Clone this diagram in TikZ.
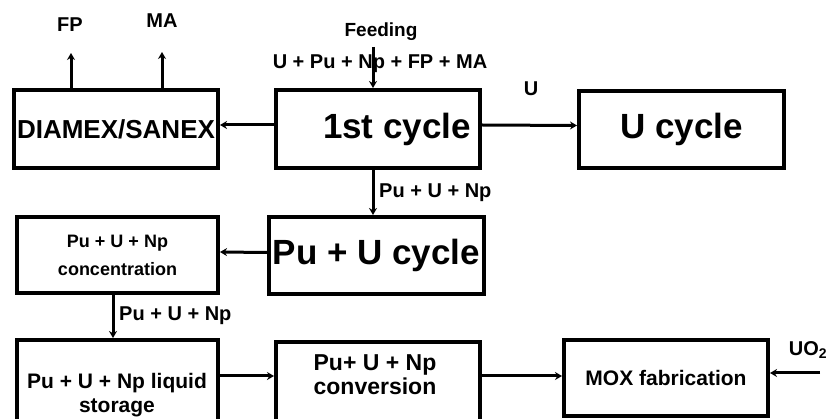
\documentclass[tikz,border=0pt]{standalone}
\usepackage{fontspec}
\setmainfont{Liberation Sans}
\usetikzlibrary{arrows.meta, positioning}
\newcommand{\fsz}[2]{\fontsize{#1}{#2}\selectfont}
\tikzset{
  box/.style={draw, line width=4pt, inner sep=0pt, align=center},
  flow/.style={->, line width=3pt},
  lbl/.style={inner sep=0pt, font=\bfseries\fsz{20}{24}},
}

\begin{document}
\begin{tikzpicture}[x=1pt, y=-1pt, >={Stealth[length=7pt,width=8pt]}]
  \useasboundingbox (0,0) rectangle (833,419);
  \clip (0,0) rectangle (833,419);
  % first row
  \node[box, minimum width=204, minimum height=78, font=\bfseries\fsz{26}{30}] (dx) at (116,129) {DIAMEX/SANEX};
  \node[box, minimum width=204, minimum height=78, font=\bfseries\fsz{35}{40}] (c1) at (378,129) {\hspace*{38pt}1st cycle};
  \node[box, minimum width=205, minimum height=77, font=\bfseries\fsz{35}{40}] (uc) at (681.5,129.5) {U cycle};
  % second row
  \node[box, minimum width=201, minimum height=76, font=\bfseries\fsz{18}{28}] (conc) at (117.5,255) {Pu + U + Np\\concentration};
  \node[box, minimum width=215, minimum height=77, font=\bfseries\fsz{35}{40}] (puc) at (376.5,255.5) {Pu + U cycle};
  % third row (cut off at the bottom)
  \node[box, minimum width=201, minimum height=120] (st) at (117.5,400) {};
  \node[align=center, inner sep=0pt, font=\bfseries\fsz{21}{24}] (stt) at (117,395) {Pu + U + Np liquid\\storage};
  \node[box, minimum width=204, minimum height=120] (cv) at (378,402) {};
  \node[align=center, inner sep=0pt, font=\bfseries\fsz{23}{24}] (cvt) at (375,375) {Pu+ U + Np\\conversion};
  \node[box, minimum width=204, minimum height=76, font=\bfseries\fsz{21}{25}] (mox) at (666,378) {MOX fabrication};
  % feeding
  \node[lbl, font=\bfseries\fsz{19}{23}] (feed) at (381,32) {Feeding};
  \node[lbl] (feedin) at (380,64) {U + Pu + Np + FP + MA};
  \coordinate (fd) at (373,47);
  \draw[flow] (fd) -- (fd |- c1.north);
  % outputs of DIAMEX/SANEX
  \node[lbl] (fp) at (70,25) {FP};
  \node[lbl] (ma) at (162,21) {MA};
  \coordinate (fptip) at (71,53);
  \coordinate (matip) at (162,52);
  \draw[flow] (fptip |- dx.north) -- (fptip);
  \draw[flow] (matip |- dx.north) -- (matip);
  % first cycle outlets
  \draw[flow] ([yshift=4pt]c1.west) -- ([yshift=4pt]dx.east);
  \draw[flow] ([yshift=4pt]c1.east) -- ([yshift=4pt]uc.west);
  \node[lbl] (ul) at (531,89) {U};
  \draw[flow] (fd |- c1.south) -- (fd |- puc.north);
  \node[lbl, anchor=west] (pl1) at (379,193) {Pu + U + Np};
  % Pu + U line
  \draw[flow] ([yshift=3pt]puc.west) -- ([yshift=3pt]conc.east);
  \coordinate (cx) at (113,0);
  \draw[flow] (cx |- conc.south) -- (cx |- st.north);
  \node[lbl, anchor=west] (pl2) at (119,316) {Pu + U + Np};
  \coordinate (r3) at (0,376);
  \draw[flow] (st.east |- r3) -- (cv.west |- r3);
  \draw[flow] (cv.east |- r3) -- (mox.west |- r3);
  % uranium oxide
  \node[lbl] (uo) at (808,350) {UO\textsubscript{2}};
  \coordinate (uoin) at (820,373);
  \draw[flow] (uoin) -- (uoin -| mox.east);
\end{tikzpicture}
\end{document}
